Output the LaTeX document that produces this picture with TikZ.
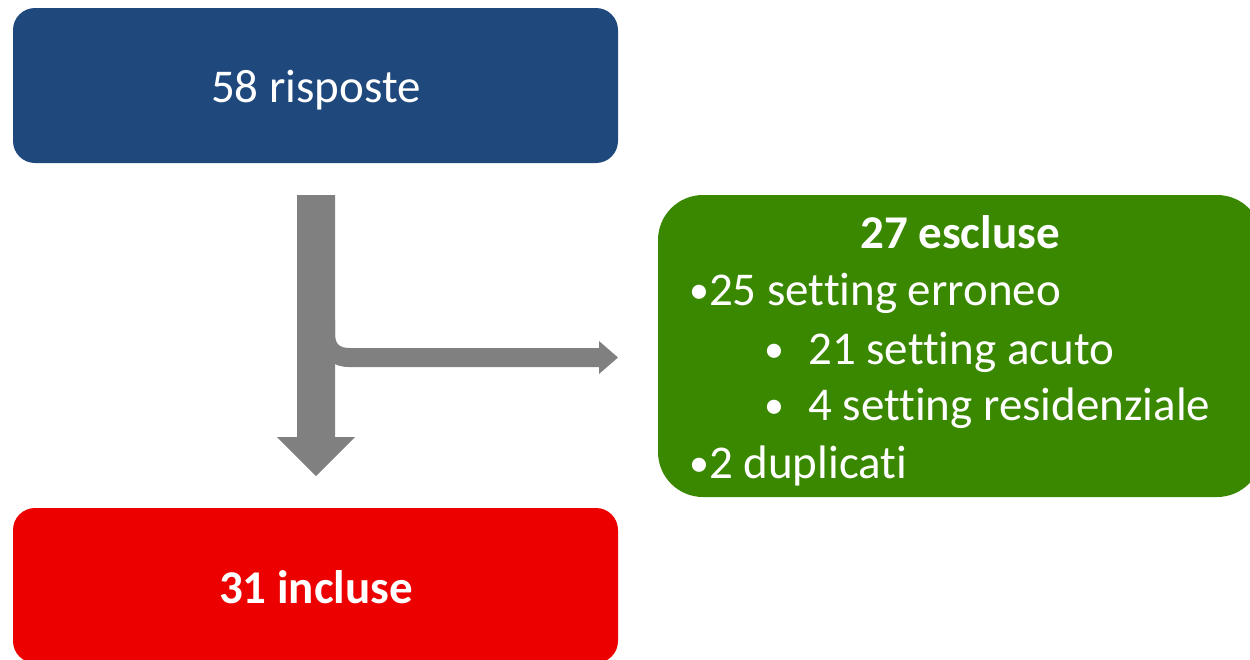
\documentclass[tikz,border=0pt]{standalone}
\usepackage{fontspec}
\setmainfont[RawFeature=-liga]{Carlito}
\definecolor{boxblue}{RGB}{31,73,125}
\definecolor{boxred}{RGB}{236,0,0}
\definecolor{boxgreen}{RGB}{58,135,0}
\definecolor{arrowgray}{RGB}{128,128,128}
\newcommand{\smbul}{\raisebox{1.5pt}{\scalebox{0.85}{•}}}
\tikzset{
  flowbox/.style={rectangle, rounded corners=22pt, inner sep=0pt,
    minimum width=605pt, minimum height=155pt},
  linetext/.style={text=white, inner sep=0pt, font=\fontsize{47}{56.4}\selectfont},
  blockarrow/.style={fill=arrowgray, draw=none}
}
\begin{document}
\begin{tikzpicture}[x=1pt,y=-1pt]
\useasboundingbox (0,0) rectangle (1250,659);
% boxes
\node[flowbox, fill=boxblue] (resp) at (315.5,85.5) {};
\node[linetext, anchor=base] (resptext) at (316,102.5) {58 risposte};
\node[flowbox, fill=boxred] (incl) at (315.5,585.5) {};
\node[linetext, anchor=base, font=\fontsize{47}{56.4}\selectfont\bfseries] (incltext) at (316,603) {31 incluse};
\node[rectangle, rounded corners=45pt, fill=boxgreen, minimum width=604pt, minimum height=302pt, inner sep=0pt] (escl) at (960,346) {};
% green box text
\node[linetext, anchor=base, font=\fontsize{47}{56.4}\selectfont\bfseries] (t0) at (960,248) {27 escluse};
\node[linetext, anchor=base west] (t1) at (689,305) {\smbul 25 setting erroneo};
\node[linetext, anchor=base west] (t2) at (764,364) {\makebox[44pt][l]{\smbul}21 setting acuto};
\node[linetext, anchor=base west] (t3) at (764,420) {\makebox[44pt][l]{\smbul}4 setting residenziale};
\node[linetext, anchor=base west] (t4) at (689,478) {\smbul 2 duplicati};
% block arrows
\fill[blockarrow] (297,195) -- (335,195) -- (335,437) -- (355,437) -- (316,476)
  -- (277,437) -- (297,437) -- cycle;
\fill[blockarrow] (330,320) -- (335,320) -- (335,333)
  .. controls (335,344) and (339,348) .. (350,348) -- (599,348) -- (599,341)
  -- (618,357.5) -- (599,374) -- (599,367) -- (349,367)
  .. controls (341,367) and (335,365) .. (330,361) -- cycle;
\end{tikzpicture}
\end{document}
